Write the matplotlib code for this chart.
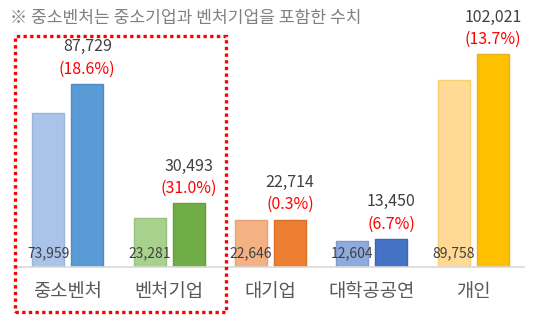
import numpy as np
import matplotlib.pyplot as plt
from matplotlib.patches import Rectangle

plt.rcParams['font.family'] = ['Noto Sans CJK KR', 'DejaVu Sans']

# data
categories = ['중소벤처', '벤처기업', '대기업', '대학공공연', '개인']
prev_vals = [73959, 23281, 22646, 12604, 89758]
curr_vals = [87729, 30493, 22714, 13450, 102021]
growth = ['(18.6%)', '(31.0%)', '(0.3%)', '(6.7%)', '(13.7%)']
note = '※ 중소벤처는 중소기업과 벤처기업을 포함한 수치'

light_cols = ['#A9C4E8', '#A9D18E', '#F4B183', '#8FAADC', '#FFD995']
light_edge = ['#9AB6DE', '#98C27C', '#E8A274', '#7F9BD0', '#F5D070']
dark_cols = ['#5B9BD5', '#70AD47', '#ED7D31', '#4472C4', '#FFC000']
dark_edge = ['#4F8CC4', '#62A03C', '#DB7028', '#3C66B4', '#E6B020']

W, H = 540, 323
fig = plt.figure(figsize=(W / 100, H / 100), dpi=100)
ax = fig.add_axes([17 / W, (H - 267) / H, (524 - 17) / W, 267 / H])

x = np.arange(len(categories))
bw = 0.315
off = 0.193
ax.bar(x - off, prev_vals, bw, color=light_cols, edgecolor=light_edge, linewidth=1)
ax.bar(x + off, curr_vals, bw, color=dark_cols, edgecolor=dark_edge, linewidth=1)

ax.set_xlim(-0.5, 4.5)
ax.set_ylim(0, 267 * 479)
for s in ['top', 'right', 'left']:
    ax.spines[s].set_visible(False)
ax.spines['bottom'].set_color('#D9D9D9')
ax.spines['bottom'].set_linewidth(1.2)
ax.set_yticks([])
ax.set_xticks(x)
ax.set_xticklabels(categories, fontsize=13.5, color='#595959')
ax.tick_params(axis='x', length=0, pad=10)

for i in range(len(categories)):
    ax.annotate(f'{prev_vals[i]:,}', (x[i] - off, 0), xytext=(0, 14), textcoords='offset pixels',
                ha='center', va='center', fontsize=10, color='#404040')
    ax.annotate(f'{curr_vals[i]:,}', (x[i] + off, curr_vals[i]), xytext=(0, 37),
                textcoords='offset pixels', ha='center', va='center', fontsize=11.5, color='#404040')
    ax.annotate(growth[i], (x[i] + off, curr_vals[i]), xytext=(0, 15),
                textcoords='offset pixels', ha='center', va='center', fontsize=11.5, color='#FF0000')

fig.text(10 / W, 1 - 18 / H, note, fontsize=12.3, color='#808080', va='center', ha='left')

# red dotted box around first two groups
fig.patches.append(Rectangle((15 / W, 1 - 312 / H), (226 - 15) / W, (312 - 36) / H,
                             transform=fig.transFigure, fill=False, edgecolor='#FF0000',
                             linewidth=2.4, linestyle=(0, (1, 1))))

fig.savefig('out.png', dpi=100)
